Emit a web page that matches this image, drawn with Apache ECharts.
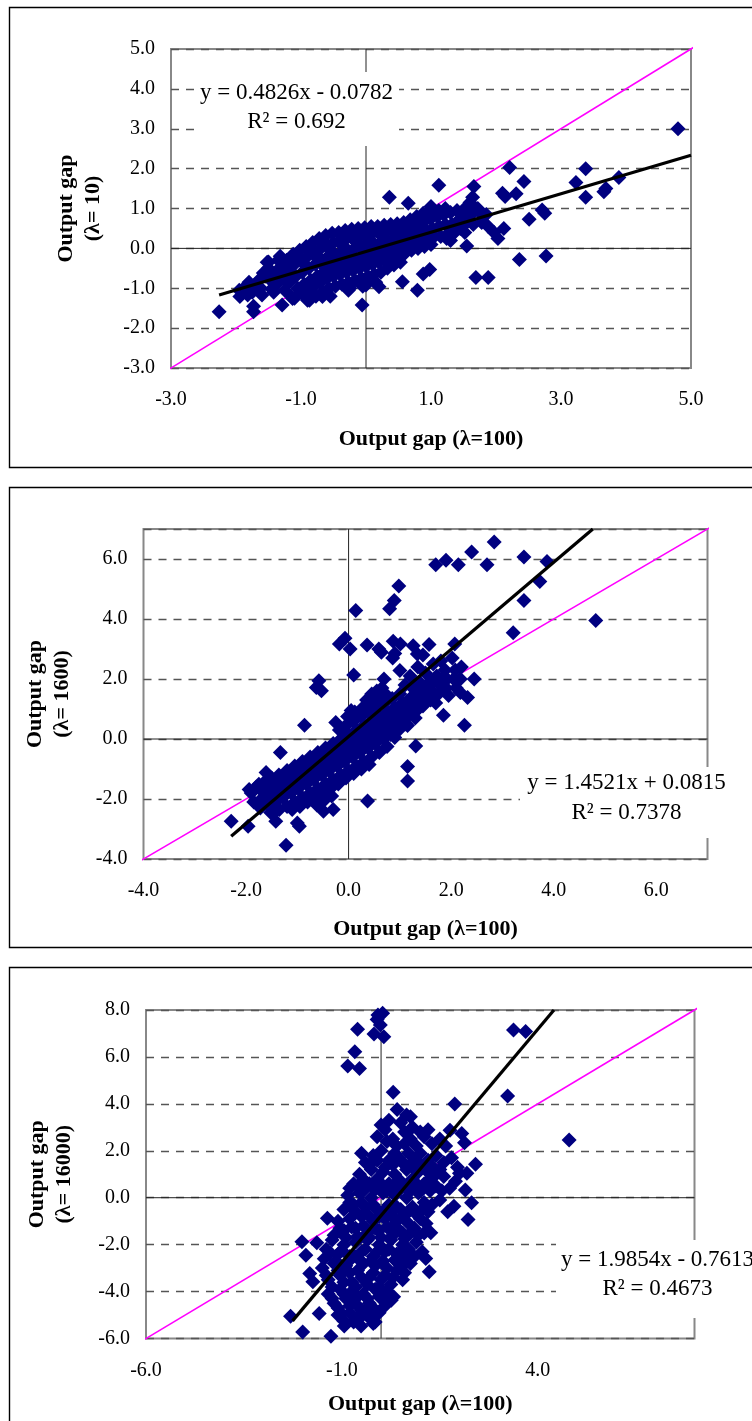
<!DOCTYPE html>
<html>
<head>
<meta charset="utf-8">
<script src="https://cdn.jsdelivr.net/npm/echarts@6/dist/echarts.min.js"></script>
<style>
  html, body { margin: 0; padding: 0; background: #fff; }
  #chart { width: 752px; height: 1421px; }
</style>
</head>
<body>
<div id="chart"></div>
<script>
// Output gap (λ=100) against output gaps from other smoothing parameters
const panelNames = ['Output gap\n(λ= 10)', 'Output gap\n(λ= 1600)', 'Output gap\n(λ= 16000)'];
const xTitle = 'Output gap (λ=100)';

// axis ranges: [min, max, interval]
const xRanges = [[-3, 5, 2], [-4, 7, 2], [-6, 8, 5]];
const yRanges = [[-3, 5, 1], [-4, 7, 2], [-6, 8, 2]];

// fitted trend lines (Excel linear trendline)
const slopes = [0.4826, 1.4521, 1.9854];
const intercepts = [-0.0782, 0.0815, -0.7613];
const rSquared = ['0.692', '0.7378', '0.4673'];
const trendX = [[-2.26, 5.0], [-2.29, 4.764], [-2.26, 4.413]];

// 45-degree reference line extents
const diagX = [[-3.1, 5.1], [-4.15, 7.15], [-6.15, 8.18]];

// observations: [gap λ=100, gap λ=10]
const gapLambda10 = [
  [4.8,3.0],[2.21,2.03],[3.38,2.0],[3.23,1.65],[3.38,1.28],[3.89,1.78],[3.69,1.5],[3.66,1.42],
  [2.43,1.68],[2.31,1.37],[2.10,1.38],[2.14,1.3],[2.71,0.96],[2.75,0.88],[2.51,0.73],[2.12,0.5],
  [2.03,0.25],[2.36,-0.28],[2.77,-0.19],[1.69,-0.73],[1.88,-0.73],[1.12,1.58],[1.66,1.55],[1.64,1.28],
  [0.36,1.28],[0.65,1.13],[0.56,-0.84],[0.79,-1.05],[0.88,-0.64],[0.98,-0.53],[-0.06,-1.42],[-0.27,-1.05],
  [0.2,-0.96],[0.0,-0.92],[1.55,0.06],[1.24,0.25],[1.35,0.38],[-2.26,-1.59],[-1.73,-1.59],[-1.73,-1.45],
  [-1.95,-1.05],[-1.94,-1.21],[-1.82,-1.17],[-1.6,-1.17],[-1.29,-1.42],[-1.5,-0.34],[-1.13,-1.26],[-0.9,-1.3],
  [-0.67,-1.21],[-0.83,-1.13],
  [-1.85,-0.95],[-1.8,-0.85],[-1.75,-1.1],[-1.65,-0.8],[-1.62,-1.0],[-1.58,-0.62],
  [-1.5,-0.5],[-1.48,-0.78],[-1.45,-1.02],[-1.52,-0.35],[-1.4,-0.62],[-1.38,-0.9],[-1.35,-0.3],[-1.42,-1.1],
  [-1.3,-0.45],[-1.28,-0.75],[-1.25,-1.05],[-1.32,-0.2],[-1.2,-0.55],[-1.18,-0.85],[-1.15,-1.2],[-1.22,-0.3],
  [-1.1,-0.4],[-1.08,-0.7],[-1.05,-1.0],[-1.12,-0.15],[-1.1,-1.25],[-1.0,-0.3],[-0.98,-0.6],[-0.95,-0.9],
  [-1.02,-0.05],[-0.97,-1.15],[-0.9,-0.2],[-0.88,-0.5],[-0.85,-0.8],[-0.92,0.05],[-0.9,-1.05],[-0.87,-1.3],
  [-0.8,-0.1],[-0.78,-0.4],[-0.75,-0.7],[-0.82,0.15],[-0.8,-0.95],[-0.77,-1.2],[-0.7,0.0],[-0.68,-0.3],
  [-0.65,-0.6],[-0.72,0.25],[-0.7,-0.85],[-0.67,-1.1],[-0.6,0.1],[-0.58,-0.2],[-0.55,-0.5],[-0.62,0.32],
  [-0.6,-0.75],[-0.57,-1.0],[-0.55,-1.2],[-0.5,0.15],[-0.48,-0.15],[-0.45,-0.45],[-0.52,0.38],[-0.5,-0.7],
  [-0.47,-0.95],[-0.4,0.2],[-0.38,-0.1],[-0.35,-0.4],[-0.42,0.4],[-0.4,-0.65],[-0.37,-0.9],[-0.3,0.25],
  [-0.28,-0.05],[-0.25,-0.35],[-0.32,0.45],[-0.3,-0.6],[-0.27,-0.85],[-0.25,-1.0],[-0.2,0.3],[-0.18,0.0],
  [-0.15,-0.3],[-0.22,0.48],[-0.2,-0.55],[-0.17,-0.8],[-0.1,0.3],[-0.08,0.05],[-0.05,-0.25],[-0.12,0.5],
  [-0.1,-0.5],[-0.07,-0.75],[-0.05,-0.95],[0.0,0.35],[0.02,0.1],[0.05,-0.2],[-0.02,0.52],[0.0,-0.45],
  [0.03,-0.7],[0.1,0.38],[0.12,0.12],[0.15,-0.15],[0.08,0.55],[0.1,-0.4],[0.13,-0.65],[0.15,-0.85],
  [0.2,0.4],[0.22,0.15],[0.25,-0.1],[0.18,0.55],[0.2,-0.35],[0.23,-0.6],[0.3,0.42],[0.32,0.2],
  [0.35,-0.05],[0.28,0.58],[0.3,-0.3],[0.33,-0.5],[0.4,0.45],[0.42,0.22],[0.45,0.0],[0.38,0.6],
  [0.4,-0.25],[0.43,-0.42],[0.5,0.48],[0.52,0.28],[0.55,0.05],[0.48,0.62],[0.5,-0.2],[0.53,-0.35],
  [0.6,0.5],[0.62,0.3],[0.65,0.1],[0.58,0.65],[0.6,-0.12],[0.7,0.55],[0.72,0.35],[0.75,0.15],
  [0.68,0.72],[0.7,-0.05],[0.8,0.6],[0.82,0.4],[0.85,0.2],[0.78,0.8],[0.8,0.0],[0.9,0.68],
  [0.92,0.45],[0.95,0.25],[0.88,0.88],[0.9,0.05],[1.0,0.75],[1.02,0.5],[1.05,0.3],[0.98,0.95],
  [1.0,0.1],[1.1,0.8],[1.12,0.55],[1.15,0.3],[1.12,0.95],[1.2,0.85],[1.22,0.6],[1.25,0.35],
  [1.22,1.0],[1.3,0.9],[1.32,0.6],[1.35,0.4],[1.3,0.2],[1.4,0.95],[1.42,0.7],[1.45,0.5],
  [1.5,0.9],[1.55,0.65],[1.52,0.4],[1.55,1.05],[1.62,0.85],[1.65,0.6],[1.6,1.15],[1.75,0.9],
  [1.78,0.65],[1.72,1.0],[1.85,0.85],[1.88,0.55],[1.97,0.4],[1.0,1.05],
  [-1.7,-0.9],[-1.55,-0.7],[-1.35,-0.55],[-1.15,-0.45],[-0.95,-0.4],[-0.75,-0.25],[-0.55,-0.05],
  [-0.35,0.05],[-0.15,0.15],[0.05,0.2],[0.25,0.3],[0.45,0.35],[0.65,0.4],[0.85,0.5],[-0.65,-0.45],
  [-0.45,-0.3],[-0.25,-0.2],[-0.05,-0.05],[0.15,0.0],[0.35,0.1],[0.55,0.18],[0.75,0.25],[0.95,0.4]
];

// observations: [gap λ=100, gap λ=1600]
const gapLambda1600 = [
  [2.84,6.57],[2.4,6.23],[2.7,5.81],[2.14,5.81],[1.9,5.96],[1.7,5.81],[3.42,6.07],[3.87,5.92],
  [3.73,5.25],[3.42,4.62],[3.21,3.54],[4.82,3.95],[0.98,5.1],[0.89,4.62],[0.8,4.34],[0.14,4.28],
  [-0.07,3.36],[-0.18,3.17],[0.03,3.0],[0.36,3.13],[0.59,3.0],[0.64,2.89],[0.87,3.26],[1.01,3.17],
  [1.26,3.11],[1.57,3.15],[1.34,2.83],[2.07,3.17],[0.1,2.13],[0.69,2.0],[2.45,2.0],[-0.58,1.94],
  [-0.63,1.72],[-0.53,1.61],[2.32,1.38],[2.18,1.55],[1.85,0.79],[2.26,0.46],[-0.86,0.46],[-1.33,-0.45],
  [1.31,-0.23],[1.15,-0.92],[1.15,-1.4],[0.37,-2.07],[-2.29,-2.74],[-1.96,-2.91],[-1.42,-2.74],[-1.45,-2.46],
  [-1.0,-2.8],[-0.96,-2.91],[-1.22,-3.54],[-0.49,-2.41],[-0.3,-2.35],[-1.94,-1.68],[-1.75,-1.51],[-1.61,-1.12],
  [1.0,2.28],[0.86,2.7],[0.9,2.85],
  [-1.9,-1.8],[-1.85,-2.1],[-1.8,-1.6],[-1.7,-2.0],[-1.72,-2.3],[-1.68,-1.75],[-1.65,-1.45],
  [-1.55,-1.9],[-1.58,-2.2],[-1.5,-1.6],[-1.52,-2.45],[-1.5,-1.3],[-1.4,-1.8],[-1.42,-2.1],[-1.38,-1.5],
  [-1.35,-2.35],[-1.36,-1.2],[-1.25,-1.65],[-1.28,-1.95],[-1.22,-1.35],[-1.2,-2.25],[-1.2,-1.05],
  [-1.1,-1.5],[-1.12,-1.8],[-1.08,-1.2],[-1.05,-2.1],[-1.05,-0.9],[-1.1,-2.35],
  [-0.95,-1.35],[-0.98,-1.65],[-0.92,-1.05],[-0.9,-1.95],[-0.9,-0.75],[-0.95,-2.25],
  [-0.8,-1.2],[-0.82,-1.5],[-0.78,-0.9],[-0.75,-1.8],[-0.75,-0.6],[-0.8,-2.1],
  [-0.65,-1.05],[-0.68,-1.35],[-0.62,-0.75],[-0.6,-1.65],[-0.6,-0.45],[-0.65,-1.95],[-0.62,-2.2],
  [-0.5,-0.9],[-0.52,-1.2],[-0.48,-0.6],[-0.45,-1.5],[-0.45,-0.3],[-0.5,-1.8],[-0.48,-2.05],
  [-0.35,-0.75],[-0.38,-1.05],[-0.32,-0.45],[-0.3,-1.35],[-0.3,-0.15],[-0.35,-1.65],[-0.33,-1.9],
  [-0.2,-0.6],[-0.22,-0.9],[-0.18,-0.3],[-0.15,-1.2],[-0.15,0.0],[-0.2,-1.5],[-0.18,0.3],
  [-0.05,-0.45],[-0.08,-0.75],[-0.02,-0.15],[0.0,-1.05],[0.0,0.15],[-0.05,0.45],[-0.02,0.75],[-0.05,-1.3],
  [0.1,-0.3],[0.08,-0.6],[0.12,0.0],[0.15,-0.9],[0.15,0.3],[0.1,0.6],[0.12,0.9],[0.1,-1.15],
  [0.25,-0.15],[0.22,-0.45],[0.28,0.15],[0.3,-0.75],[0.3,0.45],[0.25,0.75],[0.28,1.05],[0.25,-1.0],
  [0.4,0.0],[0.38,-0.3],[0.42,0.3],[0.45,-0.6],[0.45,0.6],[0.4,0.9],[0.42,1.2],[0.4,-0.85],[0.45,1.5],
  [0.55,0.15],[0.52,-0.15],[0.58,0.45],[0.6,-0.45],[0.6,0.75],[0.55,1.05],[0.58,1.35],[0.55,1.6],
  [0.7,0.3],[0.68,0.0],[0.72,0.6],[0.75,-0.25],[0.75,0.9],[0.7,1.2],[0.72,1.5],
  [0.85,0.45],[0.82,0.15],[0.88,0.75],[0.9,0.05],[0.9,1.05],[0.85,1.35],
  [1.0,0.6],[0.98,0.3],[1.02,0.9],[1.05,1.2],[1.0,1.5],
  [1.15,0.75],[1.12,0.5],[1.18,1.05],[1.2,1.35],[1.15,0.45],
  [1.3,0.9],[1.28,1.2],[1.32,1.5],[1.35,2.4],[1.3,0.7],
  [1.45,1.1],[1.48,1.4],[1.42,1.7],[1.5,2.2],[1.45,2.8],
  [1.6,1.3],[1.62,1.6],[1.58,1.9],[1.65,2.5],[1.75,1.5],[1.78,1.8],[1.72,2.1],[1.8,2.6],
  [1.9,1.7],[1.92,2.0],[1.88,2.3],[1.95,1.45],[2.05,2.0],[2.08,2.3],[2.1,1.7],[2.02,2.7],
  [2.2,2.4],[2.18,2.0],
  [1.25,1.7],[1.38,1.9],[1.55,1.75],[1.7,1.2],[1.85,2.05],[1.4,1.25],[1.2,2.1],[1.1,1.8],
  [-1.6,-2.0],[-1.3,-1.6],[-1.0,-1.55],[-0.7,-1.2],[-0.4,-0.9],[-0.1,-0.6],[0.2,-0.2],[0.5,0.3],
  [0.8,0.6],[-0.25,0.55],[0.05,0.95],[0.35,1.3],[0.65,1.7]
];

// observations: [gap λ=100, gap λ=16000]
const gapLambda16000 = [
  [0.04,7.86],[-0.08,7.79],[-0.1,7.6],[-0.02,7.36],[-0.6,7.18],[-0.18,6.98],[0.07,6.86],[-0.67,6.22],
  [-0.85,5.61],[-0.55,5.51],[3.38,7.15],[3.69,7.08],[3.23,4.33],[4.8,2.46],[0.31,4.49],[1.88,3.99],
  [0.41,3.76],[0.65,3.52],[0.75,3.45],[1.76,2.88],[2.06,2.74],[2.13,2.34],[2.41,1.43],[2.19,1.04],
  [2.0,1.04],[2.15,0.33],[2.31,-0.21],[2.22,-0.93],[1.86,-0.36],[1.27,-1.49],[1.23,-3.16],[1.14,-2.59],
  [0.57,-2.87],[0.32,-4.22],[0.26,-4.37],[-2.02,-1.88],[-1.64,-1.92],[-2.31,-5.05],[-2.0,-5.72],[-1.28,-5.9],
  [-1.58,-4.93],[-0.94,-5.47],[-0.51,-5.47],[-0.2,-5.36],[-1.82,-3.23],[-1.74,-3.58],[-1.37,-0.88],[-1.92,-2.45],
  [-0.1,2.6],[0.1,2.9],[0.3,2.5],[0.5,3.2],[0.6,2.8],[0.4,2.2],[0.75,2.5],[0.9,2.2],[1.1,2.6],[1.3,2.3],
  [1.5,2.5],[1.65,2.2],
  [-0.4,1.5],[-0.2,1.8],[0.0,2.0],[0.2,1.6],[0.35,1.9],[0.55,1.5],[0.7,1.9],[0.85,1.6],[1.0,1.9],
  [1.2,1.6],[1.4,1.8],[1.6,1.5],[1.8,1.7],[1.95,1.3],
  [-0.7,0.6],[-0.55,1.0],[-0.4,0.7],[-0.25,1.2],[-0.1,0.8],[0.05,1.1],[0.2,0.6],[0.35,1.0],[0.5,0.7],
  [0.65,1.2],[0.8,0.8],[0.95,1.1],[1.1,0.6],[1.25,1.0],[1.4,0.5],[1.6,0.9],[1.75,0.4],[1.9,0.7],
  [-0.85,0.1],[-0.7,-0.3],[-0.55,0.2],[-0.4,-0.4],[-0.25,0.0],[-0.1,-0.5],[0.05,0.2],[0.2,-0.3],
  [0.35,0.1],[0.5,-0.5],[0.65,0.0],[0.8,-0.4],[0.95,0.2],[1.1,-0.2],[1.25,0.3],[1.5,-0.1],[1.7,-0.6],
  [-1.1,-1.0],[-0.95,-1.4],[-0.8,-0.9],[-0.65,-1.3],[-0.5,-0.8],[-0.35,-1.5],[-0.2,-1.0],[-0.05,-1.4],
  [0.1,-0.9],[0.25,-1.3],[0.4,-1.0],[0.55,-1.5],[0.7,-1.1],[0.85,-1.3],[1.0,-0.9],[1.15,-1.1],
  [-1.4,-2.2],[-1.25,-1.8],[-1.1,-2.4],[-0.95,-2.0],[-0.8,-2.5],[-0.65,-1.9],[-0.5,-2.3],[-0.35,-1.8],
  [-0.2,-2.5],[-0.05,-2.0],[0.1,-2.3],[0.25,-1.8],[0.4,-2.4],[0.55,-2.0],[0.7,-2.2],[0.9,-1.9],[1.05,-2.3],
  [-1.5,-3.0],[-1.35,-3.5],[-1.2,-2.8],[-1.05,-3.3],[-0.9,-2.9],[-0.75,-3.6],[-0.6,-3.1],[-0.45,-2.8],
  [-0.3,-3.4],[-0.15,-2.9],[0.0,-3.5],[0.15,-3.0],[0.3,-3.4],[0.45,-2.8],[0.6,-3.2],[0.75,-2.8],
  [-1.35,-4.1],[-1.2,-4.5],[-1.05,-3.9],[-0.9,-4.3],[-0.75,-4.0],[-0.6,-4.6],[-0.45,-4.1],[-0.3,-4.5],
  [-0.15,-3.9],[0.0,-4.3],[0.15,-4.0],
  [-1.1,-5.0],[-0.95,-5.25],[-0.8,-4.9],[-0.6,-5.1],[-0.4,-4.85],[-0.25,-5.2],[-0.05,-4.9],
  [0.2,3.3],[0.0,3.1],[0.8,3.0],[1.0,2.8],[0.15,2.4],[0.6,2.3],[1.2,2.9],
  [-0.5,1.9],[-0.3,1.4],[-0.1,1.6],[0.1,1.3],[0.3,1.4],[0.45,1.7],[0.6,1.4],[0.8,1.3],[0.95,1.5],
  [1.1,1.3],[1.3,1.35],[1.5,1.2],
  [-0.8,0.4],[-0.6,0.5],[-0.45,0.3],[-0.3,0.6],[-0.15,0.35],[0.0,0.6],[0.15,0.3],[0.3,0.5],[0.45,0.3],
  [0.6,0.5],[0.75,0.3],[0.9,0.6],[1.05,0.35],[1.2,0.7],[1.35,0.9],[1.55,0.3],
  [-0.95,-0.5],[-0.8,-0.2],[-0.65,-0.6],[-0.5,-0.2],[-0.35,-0.7],[-0.2,-0.3],[-0.05,-0.8],[0.1,-0.5],
  [0.25,-0.7],[0.4,-0.4],[0.55,-0.8],[0.7,-0.6],[0.9,-0.7],[1.05,-0.5],[1.2,-0.6],[1.3,-0.3],
  [-1.2,-1.6],[-1.05,-1.3],[-0.9,-1.7],[-0.75,-1.25],[-0.6,-1.65],[-0.45,-1.2],[-0.3,-1.7],[-0.15,-1.3],
  [0.0,-1.7],[0.15,-1.25],[0.3,-1.6],[0.45,-1.35],[0.6,-1.75],[0.75,-1.5],[0.95,-1.6],[1.1,-1.5],
  [-1.45,-2.6],[-1.3,-2.35],[-1.15,-2.7],[-1.0,-2.25],[-0.85,-2.75],[-0.7,-2.45],[-0.55,-2.65],[-0.4,-2.2],
  [-0.25,-2.7],[-0.1,-2.3],[0.05,-2.7],[0.2,-2.2],[0.35,-2.65],[0.5,-2.3],[0.65,-2.6],[0.85,-2.5],
  [-1.4,-3.3],[-1.25,-3.8],[-1.1,-3.1],[-0.95,-3.6],[-0.8,-3.2],[-0.65,-3.8],[-0.5,-3.4],[-0.35,-3.7],
  [-0.2,-3.2],[-0.05,-3.8],[0.1,-3.3],[0.25,-3.7],[0.4,-3.1],[0.55,-3.5],
  [-1.25,-4.3],[-1.1,-4.7],[-0.95,-4.1],[-0.8,-4.6],[-0.65,-4.3],[-0.5,-4.8],[-0.35,-4.3],[-0.2,-4.7],
  [-0.05,-4.2],[0.1,-4.6],
  [-1.0,-4.95],[-0.7,-5.3],[-0.5,-5.05],[-0.3,-5.0],[-0.15,-5.3]
];

const panelData = [gapLambda10, gapLambda1600, gapLambda16000];

// layout of the three plot areas
const grids = [
  { left: 171, top: 49, width: 520, height: 319 },
  { left: 143.5, top: 529, width: 564, height: 330 },
  { left: 146, top: 1010, width: 548.5, height: 328.5 }
];
const showMaxX = [true, false, false];
const showMaxY = [true, false, true];
const xNameGap = [60, 59, 55];
const yNameGap = [64, 68, 68];

const serif = "'Liberation Serif', 'Times New Roman', serif";
const navy = '#000080';

const fmt = v => v.toFixed(1);

const xAxes = [], yAxes = [], series = [];
for (let i = 0; i < 3; i++) {
  const xr = xRanges[i], yr = yRanges[i];
  xAxes.push({
    type: 'value', gridIndex: i,
    min: xr[0], max: xr[1], interval: xr[2],
    axisLine: { show: false }, axisTick: { show: false }, splitLine: { show: false },
    axisLabel: { formatter: fmt, fontFamily: serif, fontSize: 20, color: '#000', margin: 22,
                 showMaxLabel: showMaxX[i] },
    name: xTitle, nameLocation: 'middle', nameGap: xNameGap[i],
    nameTextStyle: { fontFamily: serif, fontWeight: 'bold', fontSize: 22, color: '#000' }
  });
  yAxes.push({
    type: 'value', gridIndex: i,
    min: yr[0], max: yr[1], interval: yr[2],
    axisLine: { show: false }, axisTick: { show: false },
    splitLine: { show: true, lineStyle: { type: [8, 7], color: '#555', width: 1.3 } },
    axisLabel: { formatter: fmt, fontFamily: serif, fontSize: 20, color: '#000', margin: 16,
                 showMaxLabel: showMaxY[i] },
    name: panelNames[i], nameLocation: 'middle', nameGap: yNameGap[i], nameRotate: 90,
    nameTextStyle: { fontFamily: serif, fontWeight: 'bold', fontSize: 22, lineHeight: 27,
                     color: '#000', align: 'center' }
  });

  // zero axes, beneath everything else in the plot
  const zeroStyle = { color: '#222', width: 1 };
  series.push({
    type: 'line', xAxisIndex: i, yAxisIndex: i, z: 0, silent: true, symbol: 'none',
    data: [[0, yr[0]], [0, yr[1]]], lineStyle: zeroStyle
  });
  series.push({
    type: 'line', xAxisIndex: i, yAxisIndex: i, z: 0, silent: true, symbol: 'none',
    data: [[xr[0], 0], [xr[1], 0]], lineStyle: zeroStyle
  });
  // 45-degree line
  series.push({
    type: 'line', xAxisIndex: i, yAxisIndex: i, z: 1,
    data: [[diagX[i][0], diagX[i][0]], [diagX[i][1], diagX[i][1]]],
    symbol: 'none', clip: false, silent: true,
    lineStyle: { color: '#FF00FF', width: 1.6 }
  });
  // observations
  series.push({
    type: 'scatter', xAxisIndex: i, yAxisIndex: i, z: 2,
    data: panelData[i], symbol: 'diamond', symbolSize: 15,
    itemStyle: { color: navy, opacity: 1 }
  });
  // linear trend
  const tx = trendX[i];
  series.push({
    type: 'line', xAxisIndex: i, yAxisIndex: i, z: 3,
    data: tx.map(x => [x, slopes[i] * x + intercepts[i]]),
    symbol: 'none', silent: true,
    lineStyle: { color: '#000', width: 3.2 }
  });
}

function equation(i) {
  const b = intercepts[i];
  const sign = b < 0 ? '-' : '+';
  return 'y = ' + slopes[i].toFixed(4) + 'x ' + sign + ' ' + Math.abs(b).toFixed(4) +
         '\nR² = ' + rSquared[i];
}

// equation boxes: [rect x, y, w, h, text centre x, first line centre y]
const eqBoxes = [
  [195, 72, 204, 74, 296.5, 93],
  [520, 767, 240, 71, 626.5, 783.5],
  [556, 1240, 210, 78, 657.5, 1260]
];

const graphics = [];
// panel frames
[[9.5, 7.5, 800, 460], [9.5, 487.5, 800, 460], [9.5, 967.5, 800, 480]].forEach(f => {
  graphics.push({ type: 'rect', z: 0, silent: true,
    shape: { x: f[0], y: f[1], width: f[2], height: f[3] },
    style: { fill: 'none', stroke: '#000', lineWidth: 1.4 } });
});
eqBoxes.forEach((b, i) => {
  graphics.push({ type: 'rect', z: 100, silent: true,
    shape: { x: b[0], y: b[1], width: b[2], height: b[3] },
    style: { fill: '#fff' } });
  graphics.push({ type: 'text', z: 101, silent: true, x: b[4], y: b[5] - 15,
    style: { text: equation(i), fontFamily: serif, fontSize: 23, lineHeight: 29.5,
             fill: '#000', align: 'center', verticalAlign: 'top' } });
});

const chart = echarts.init(document.getElementById('chart'), null, { renderer: 'canvas' });
chart.setOption({
  animation: false,
  backgroundColor: '#fff',
  grid: grids.map(g => Object.assign({ show: true, borderColor: '#888', borderWidth: 2,
                                      backgroundColor: 'transparent', containLabel: false }, g)),
  xAxis: xAxes,
  yAxis: yAxes,
  series: series,
  graphic: graphics
});
</script>
</body>
</html>
